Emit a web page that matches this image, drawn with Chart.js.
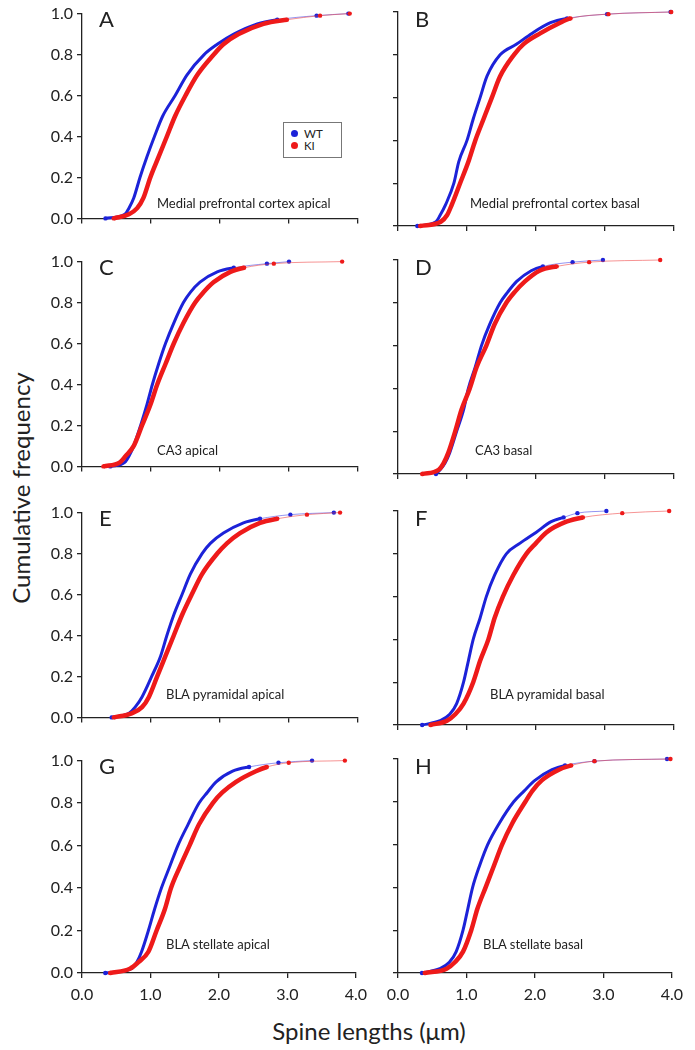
<!DOCTYPE html>
<html>
<head>
<meta charset="utf-8">
<script src="https://cdn.jsdelivr.net/npm/chart.js@4.4.0/dist/chart.umd.min.js"></script>
<style>
  html, body { margin: 0; padding: 0; background: #fff; }
  #page { position: relative; width: 695px; height: 1050px; overflow: hidden;
          font-family: Lato, 'Open Sans', sans-serif; color: #222; }
  canvas.panel { position: absolute; }
  .letter { position: absolute; font-size: 22px; line-height: 1; }
  .note { position: absolute; font-size: 13px; line-height: 1; white-space: nowrap; transform: translateY(-50%); }
  .legend { position: absolute; left: 283px; top: 122px; width: 57px; height: 34px;
            border: 1px solid #777; font-size: 11.5px; background: #fff; }
  .legend div { position: absolute; left: 20px; line-height: 1; }
  .legend span { position: absolute; left: -13px; top: 2px; width: 7px; height: 7px; border-radius: 50%; }
  #ytitle { position: absolute; left: 20px; top: 488px; font-size: 24px; white-space: nowrap;
            transform: translate(-50%, -50%) rotate(-90deg); }
  #xtitle { position: absolute; left: 369px; top: 1016px; font-size: 24px; white-space: nowrap;
            transform: translateX(-50%); }
</style>
</head>
<body>
<div id="page">
  <div id="ytitle">Cumulative frequency</div>
  <div id="xtitle">Spine lengths (μm)</div>
</div>
<script>
const FREQ = [0, 0.02, 0.05, 0.1, 0.2, 0.3, 0.4, 0.5, 0.6, 0.7, 0.8, 0.85, 0.9, 0.95, 0.97, 0.99, 1.0];

// spine length (um) at which each curve reaches the FREQ level above
const A_WT = [0.34, 0.62, 0.68, 0.75, 0.84, 0.94, 1.05, 1.17, 1.35, 1.52, 1.77, 1.96, 2.20, 2.54, 2.83, 3.40, 3.86];
const A_KI = [0.46, 0.68, 0.80, 0.89, 0.99, 1.11, 1.23, 1.35, 1.50, 1.67, 1.91, 2.05, 2.27, 2.63, 2.97, 3.45, 3.88];
const B_WT = [0.28, 0.55, 0.61, 0.69, 0.81, 0.88, 1.00, 1.09, 1.19, 1.29, 1.48, 1.72, 1.94, 2.21, 2.45, 3.03, 3.95];
const B_KI = [0.32, 0.62, 0.71, 0.78, 0.90, 1.02, 1.12, 1.24, 1.36, 1.48, 1.68, 1.82, 2.06, 2.35, 2.50, 3.05, 3.96];
const C_WT = [0.41, 0.62, 0.68, 0.75, 0.85, 0.94, 1.02, 1.11, 1.21, 1.33, 1.47, 1.57, 1.71, 1.96, 2.20, 2.68, 3.00];
const C_KI = [0.31, 0.55, 0.63, 0.75, 0.87, 0.99, 1.09, 1.21, 1.33, 1.47, 1.64, 1.76, 1.91, 2.15, 2.35, 2.78, 3.77];
const D_WT = [0.55, 0.61, 0.68, 0.75, 0.85, 0.95, 1.02, 1.12, 1.21, 1.33, 1.48, 1.59, 1.72, 1.93, 2.10, 2.53, 2.97];
const D_KI = [0.35, 0.59, 0.66, 0.73, 0.83, 0.92, 1.04, 1.14, 1.28, 1.40, 1.57, 1.69, 1.84, 2.05, 2.30, 2.77, 3.80];
const E_WT = [0.43, 0.68, 0.77, 0.87, 1.01, 1.14, 1.23, 1.33, 1.45, 1.57, 1.74, 1.86, 2.05, 2.34, 2.58, 3.02, 3.65];
const E_KI = [0.46, 0.72, 0.87, 0.97, 1.09, 1.21, 1.33, 1.45, 1.59, 1.74, 1.96, 2.10, 2.29, 2.58, 2.83, 3.26, 3.74];
const F_WT = [0.35, 0.61, 0.75, 0.85, 0.95, 1.02, 1.09, 1.19, 1.28, 1.40, 1.57, 1.77, 2.00, 2.22, 2.40, 2.60, 3.02];
const F_KI = [0.47, 0.71, 0.83, 0.95, 1.09, 1.19, 1.31, 1.40, 1.52, 1.67, 1.86, 2.00, 2.15, 2.44, 2.68, 3.25, 3.93];
const G_WT = [0.34, 0.72, 0.80, 0.87, 0.97, 1.06, 1.16, 1.28, 1.40, 1.55, 1.71, 1.83, 1.96, 2.20, 2.44, 2.87, 3.36];
const G_KI = [0.41, 0.70, 0.82, 0.97, 1.09, 1.21, 1.30, 1.43, 1.57, 1.71, 1.91, 2.05, 2.25, 2.54, 2.70, 3.02, 3.84];
const H_WT = [0.35, 0.61, 0.75, 0.85, 0.95, 1.02, 1.09, 1.19, 1.31, 1.48, 1.69, 1.84, 2.00, 2.25, 2.44, 2.87, 3.93];
const H_KI = [0.39, 0.71, 0.83, 0.95, 1.07, 1.16, 1.28, 1.40, 1.52, 1.67, 1.86, 1.96, 2.10, 2.35, 2.53, 2.87, 3.98];

const PANEL_LETTERS = ['A', 'B', 'C', 'D', 'E', 'F', 'G', 'H'];
const PANEL_NOTES = ['Medial prefrontal cortex apical', 'Medial prefrontal cortex basal',
                     'CA3 apical', 'CA3 basal',
                     'BLA pyramidal apical', 'BLA pyramidal basal',
                     'BLA stellate apical', 'BLA stellate basal'];
const SERIES_NAMES = ['WT', 'KI'];
const X_TICKS = [0, 1, 2, 3, 4];
const Y_TICKS = [0, 0.2, 0.4, 0.6, 0.8, 1.0];

const WT = [A_WT, B_WT, C_WT, D_WT, E_WT, F_WT, G_WT, H_WT];
const KI = [A_KI, B_KI, C_KI, D_KI, E_KI, F_KI, G_KI, H_KI];

// --- layout (px) ---
const ROW_TOP = [12, 260, 511, 759];
const PLOT_H = 214;
const COL_LEFT = [82, 398];
const PLOT_W = 276;
const Y_AXIS_W = 82;
const PAD_TOP = 12, PAD_RIGHT = 16;
const NOTE_POS = [[157, 203], [470, 203], [157, 450], [475, 450], [166, 694], [490, 694], [166, 944], [483, 944]];

const BLUE = '#1c22d8';
const RED = '#ee1a1a';
const FONT = 'Lato, "Open Sans", sans-serif';
const TAIL_FROM = 0.97; // above this the measurements get sparse

const page = document.getElementById('page');

function curve(xs) {
    return FREQ.map((f, i) => ({ x: xs[i], y: f }));
}

function makeDataset(name, xs, color, thinColor, width) {
    return {
        label: name,
        data: curve(xs),
        showLine: true,
        borderColor: color,
        backgroundColor: color,
        borderWidth: width,
        cubicInterpolationMode: 'monotone',
        clip: false,
        pointRadius: ctx => (ctx.raw && (ctx.raw.y >= TAIL_FROM || ctx.raw.y === 0) ? 2.2 : 0),
        pointBorderWidth: 0,
        segment: {
            // sparse tail of the distribution: thin connecting line between dots
            borderWidth: c => (c.p0.parsed.y >= TAIL_FROM ? 1 : undefined),
            borderColor: c => (c.p0.parsed.y >= TAIL_FROM ? thinColor : undefined)
        }
    };
}

function makePanel(i) {
    const row = Math.floor(i / 2), col = i % 2;
    const bottomRow = row === 3;
    const xAxisH = bottomRow ? 34 : 6;

    const canvas = document.createElement('canvas');
    canvas.className = 'panel';
    const w = Y_AXIS_W + PLOT_W + PAD_RIGHT;
    const h = PAD_TOP + PLOT_H + xAxisH;
    canvas.width = w;
    canvas.height = h;
    canvas.style.left = (COL_LEFT[col] - Y_AXIS_W) + 'px';
    canvas.style.top = (ROW_TOP[row] - PAD_TOP) + 'px';
    canvas.style.width = w + 'px';
    canvas.style.height = h + 'px';
    page.appendChild(canvas);

    const axisLine = { display: true, color: '#222', width: 1.3 };
    const tickMarks = { drawOnChartArea: false, drawTicks: true, tickLength: 5, color: '#222', lineWidth: 1.3 };

    new Chart(canvas, {
        type: 'scatter',
        data: {
            datasets: [
                makeDataset(SERIES_NAMES[1], KI[i], RED, 'rgba(238,60,60,0.55)', 4.5),
                makeDataset(SERIES_NAMES[0], WT[i], BLUE, 'rgba(60,60,230,0.55)', 3)
            ]
        },
        options: {
            responsive: false,
            animation: false,
            devicePixelRatio: 1,
            layout: { padding: { top: PAD_TOP, right: PAD_RIGHT, left: 0, bottom: 0 } },
            plugins: { legend: { display: false }, tooltip: { enabled: false } },
            scales: {
                x: {
                    type: 'linear', min: 0, max: 4,
                    border: axisLine,
                    grid: tickMarks,
                    afterBuildTicks: s => { s.ticks = X_TICKS.map(v => ({ value: v })); },
                    afterFit: s => { s.height = xAxisH; },
                    ticks: {
                        display: bottomRow,
                        padding: 7,
                        color: '#222',
                        font: { family: FONT, size: 16 },
                        callback: v => v.toFixed(1)
                    }
                },
                y: {
                    type: 'linear', min: 0, max: 1,
                    border: axisLine,
                    grid: tickMarks,
                    afterBuildTicks: s => { s.ticks = Y_TICKS.map(v => ({ value: v })); },
                    afterFit: s => { s.width = Y_AXIS_W; },
                    ticks: {
                        display: col === 0,
                        padding: 4,
                        color: '#222',
                        font: { family: FONT, size: 16 },
                        callback: v => v.toFixed(1)
                    }
                }
            }
        }
    });

    const letter = document.createElement('div');
    letter.className = 'letter';
    letter.textContent = PANEL_LETTERS[i];
    letter.style.left = (col === 0 ? 99 : 415) + 'px';
    letter.style.top = (ROW_TOP[row] - 4) + 'px';
    page.appendChild(letter);

    const note = document.createElement('div');
    note.className = 'note';
    note.textContent = PANEL_NOTES[i];
    note.style.left = NOTE_POS[i][0] + 'px';
    note.style.top = NOTE_POS[i][1] + 'px';
    page.appendChild(note);
}

for (let i = 0; i < 8; i++) makePanel(i);

// legend of panel A
const legend = document.createElement('div');
legend.className = 'legend';
legend.innerHTML =
    '<div style="top:5px"><span style="background:' + BLUE + '"></span>' + SERIES_NAMES[0] + '</div>' +
    '<div style="top:17px"><span style="background:' + RED + '"></span>' + SERIES_NAMES[1] + '</div>';
page.appendChild(legend);
</script>
</body>
</html>
